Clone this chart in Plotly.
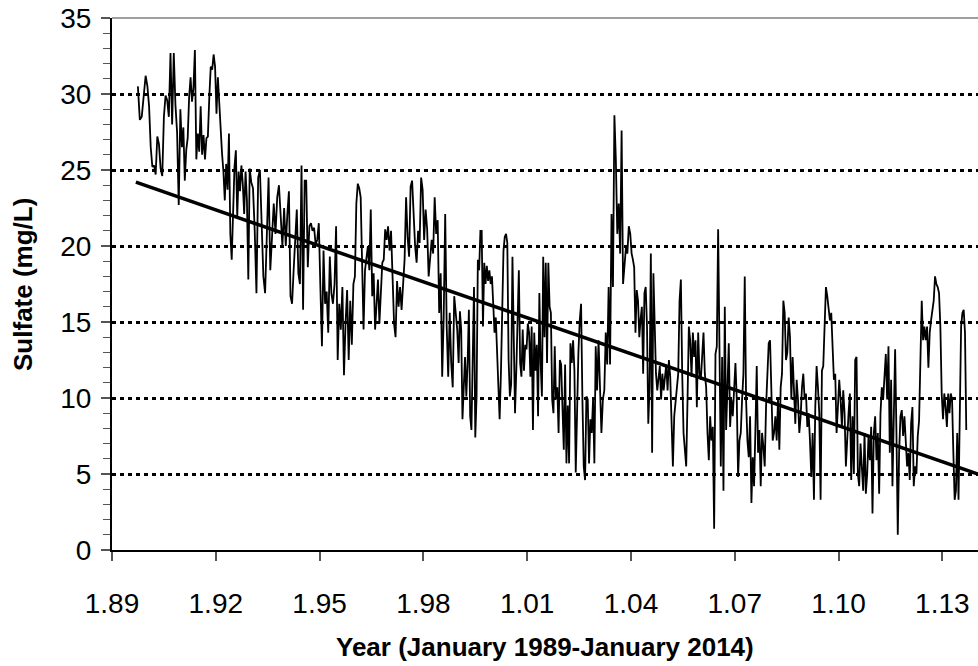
import plotly.graph_objects as go

# ---- data (sulfate, mg/L), one list per calendar year ----
v1989 = [30.5, 28.3, 28.5, 29.8, 31.2]
v1990 = [30.5, 29.2, 26.5, 25.2, 25.3, 24.7, 27.2, 26.7, 25.1, 24.6, 28.5, 29.9, 29.6, 28.5, 32.7, 28.0, 32.7, 29.3, 27.5, 22.7, 29.0]
v1991 = [26.5, 27.8, 24.3, 26.3, 27.1, 29.8, 31.1, 29.5, 30.4, 32.9, 25.7, 27.4, 26.2, 29.2, 26.0, 27.3, 25.7, 27.1, 27.2, 29.8, 31.8, 31.6, 32.6, 31.8]
v1992 = [28.7, 31.1, 29.3, 28.3, 26.1, 24.9, 23.0, 25.4, 23.7, 27.4, 20.8, 19.1, 23.0, 25.2, 26.3, 21.9, 24.9, 23.6, 25.3, 24.1, 22.1, 24.9, 23.0, 17.8, 25.1]
v1993 = [24.2, 23.8, 21.0, 16.9, 24.5, 25.0, 21.0, 18.0, 16.9, 20.4, 24.5, 18.4, 20.9, 22.8, 20.8, 23.2, 24.0, 22.1, 20.0, 22.5]
v1994 = [20.0, 22.1, 23.6, 16.7, 16.2, 18.4, 20.4, 22.4, 18.2, 17.5, 25.3, 15.8, 24.3, 24.3, 18.6, 21.3, 21.5, 21.0, 21.2, 20.1, 20.4, 21.5]
v1995 = [17.3, 13.4, 19.7, 16.2, 17.0, 14.3, 19.3, 16.9, 16.2, 17.5, 21.3, 12.5, 16.2, 14.5, 17.3, 11.5, 14.9, 17.1, 12.5, 16.4, 13.5, 17.5]
v1996 = [18.0, 22.8, 24.1, 23.8, 23.2, 18.0, 14.5, 18.4, 19.1, 20.0, 18.4, 22.4, 16.7, 18.2, 14.5, 16.2, 17.8, 14.9, 17.5, 18.9, 19.1, 21.1, 20.4, 21.3]
v1997 = [19.7, 21.0, 18.0, 14.9, 14.0, 17.7, 16.0, 17.3, 15.8, 18.0, 19.1, 23.2, 20.6, 19.3, 23.9, 24.3, 21.9, 20.0, 18.9, 21.0, 20.2, 24.5, 23.7]
v1998 = [20.4, 22.4, 21.1, 18.0, 19.5, 20.4, 19.5, 23.2, 20.8, 21.7, 15.6, 18.2, 11.4, 15.3, 22.1, 14.7, 11.4, 15.6, 12.3, 10.7, 16.7, 15.3, 14.5]
v1999 = [12.3, 15.7, 14.5, 8.6, 10.7, 12.7, 10.1, 12.3, 15.8, 8.8, 7.9, 14.5, 17.3, 7.4, 10.1, 19.1, 18.4, 21.0, 21.0, 14.7, 18.9, 17.5, 18.7, 17.7, 18.4, 17.5, 18.0]
v2000 = [16.2, 14.3, 15.3, 13.2, 10.1, 8.6, 11.6, 16.7, 19.7, 20.6, 20.8, 20.2, 12.5, 10.1, 10.9, 19.3, 14.5, 9.0, 11.8, 15.0, 18.4, 12.3, 11.4, 14.5, 11.8, 13.5, 13.2]
v2001 = [14.9, 14.3, 11.4, 14.7, 7.9, 14.3, 11.8, 13.5, 8.8, 16.9, 12.3, 10.1, 19.3, 14.0, 18.9, 12.3, 18.9, 16.0, 15.6, 9.9, 9.0, 13.4, 9.9, 10.7, 7.7, 12.5, 12.2]
v2002 = [9.9, 6.6, 12.2, 5.7, 9.5, 5.7, 13.6, 12.3, 13.8, 11.8, 5.1, 10.3, 13.0, 15.1, 16.2, 9.9, 5.5, 4.6, 10.1, 9.9, 5.7, 8.6, 7.7, 9.9, 5.7, 13.4]
v2003 = [10.5, 13.8, 9.9, 7.7, 9.9, 10.5, 14.3, 12.2, 17.3, 12.2, 22.1, 17.3, 28.6, 25.7, 20.8, 22.8, 19.5, 27.6, 17.5, 19.1, 19.9, 19.5, 21.3, 20.8]
v2004 = [19.5, 19.1, 18.6, 14.3, 17.1, 16.4, 14.0, 15.2, 16.0, 11.6, 16.9, 17.3, 14.7, 8.3, 10.7, 19.5, 6.4, 18.2, 14.3, 11.6, 10.5, 11.4, 12.1, 9.9, 11.6, 10.5, 11.4]
v2005 = [12.2, 10.5, 12.5, 11.4, 9.0, 5.5, 8.8, 9.9, 10.5, 11.6, 16.4, 17.8, 11.6, 7.7, 6.6, 5.5, 9.9, 14.7, 13.8, 11.4, 14.3, 12.7, 13.8, 9.4, 14.3, 11.6]
v2006 = [11.2, 12.9, 14.3, 11.6, 10.7, 7.7, 5.9, 8.8, 7.2, 8.1, 1.4, 12.9, 13.4, 21.1, 11.6, 5.5, 12.7, 3.9, 16.0, 7.9, 10.7, 13.6, 8.1, 9.9, 8.8, 10.3]
v2007 = [12.3, 9.9, 4.8, 7.2, 7.7, 9.9, 11.6, 18.0, 9.9, 7.2, 6.1, 8.8, 3.1, 6.1, 4.2, 7.9, 12.1, 6.4, 7.9, 4.2, 7.7, 6.8, 5.5, 9.4, 11.2, 13.6]
v2008 = [13.8, 10.7, 7.2, 7.7, 8.8, 7.2, 9.9, 6.6, 10.7, 11.6, 16.4, 15.6, 12.5, 13.0, 15.3, 14.0, 9.9, 12.7, 10.7, 8.3, 11.2, 9.9, 7.7, 8.8, 10.7, 11.6]
v2009 = [9.9, 10.3, 8.1, 9.0, 7.2, 4.8, 7.7, 3.3, 9.4, 12.1, 10.7, 9.0, 3.3, 11.8, 12.1, 14.3, 17.3, 16.7, 16.0, 15.1, 15.6, 13.0, 11.2, 11.6, 7.7, 9.4]
v2010 = [11.2, 9.9, 8.1, 10.5, 9.0, 5.5, 7.7, 9.0, 10.3, 4.6, 8.8, 5.0, 12.5, 12.7, 5.0, 4.2, 7.0, 5.5, 3.9, 7.7, 3.7, 5.0, 7.5, 5.9, 8.1, 2.4]
v2011 = [7.7, 8.8, 5.9, 7.7, 3.7, 9.0, 10.7, 9.9, 11.6, 12.9, 9.9, 13.4, 6.4, 11.2, 4.2, 9.9, 13.2, 7.7, 1.0, 6.4, 8.8, 9.2, 7.5, 8.8, 6.8, 5.5]
v2012 = [6.4, 4.6, 8.3, 9.4, 4.2, 5.5, 5.0, 7.5, 8.5, 12.1, 16.4, 13.8, 14.7, 13.8, 14.7, 12.0, 14.3, 15.1, 16.0, 16.4, 18.0, 17.5, 17.3, 16.9, 14.7, 10.3]
v2013 = [8.6, 10.3, 9.4, 8.1, 10.3, 9.0, 10.3, 9.9, 6.4, 3.3, 3.9, 7.7, 3.3, 10.7, 14.7, 15.6, 15.8, 14.3, 7.9]

first_sample = 1989.72   # decimal year of first sample
last_sample = 2013.71    # decimal year of last sample

# linear trend end points
trend_years = [1989.69, 2014.03]
trend_values = [24.2, 5.0]

# axis ticks
tick_years = [1989, 1992, 1995, 1998, 2001, 2004, 2007, 2010, 2013]
tick_labels = ["1.89", "1.92", "1.95", "1.98", "1.01", "1.04", "1.07", "1.10", "1.13"]

yearly = [v1989, v1990, v1991, v1992, v1993, v1994, v1995, v1996, v1997, v1998,
          v1999, v2000, v2001, v2002, v2003, v2004, v2005, v2006, v2007, v2008,
          v2009, v2010, v2011, v2012, v2013]

xs, ys = [], []
for k, vals in enumerate(yearly):
    yr = 1989 + k
    lo = max(yr, first_sample)
    hi = min(yr + 1, last_sample)
    n = len(vals)
    for i, v in enumerate(vals):
        xs.append(lo + (hi - lo) * (i + 0.5) / n)
        ys.append(v)

FONT = "Liberation Sans, Arial, sans-serif"

fig = go.Figure()
fig.add_trace(go.Scatter(x=xs, y=ys, mode="lines",
                         line=dict(color="black", width=1.8), showlegend=False))
fig.add_trace(go.Scatter(x=trend_years, y=trend_values, mode="lines",
                         line=dict(color="black", width=3.5), showlegend=False))

fig.update_layout(
    width=978, height=666,
    margin=dict(l=112, r=0, t=18, b=116),
    paper_bgcolor="white", plot_bgcolor="white",
    font=dict(family=FONT, color="black"),
    xaxis=dict(range=[1989, 2014.03], tickvals=tick_years, ticktext=tick_labels,
               showgrid=False, zeroline=False, showline=True, linecolor="black",
               linewidth=2, ticks="outside", ticklen=9, tickwidth=1.5,
               tickcolor="#555555", tickfont=dict(size=28, family=FONT),
               ticklabelstandoff=18),
    yaxis=dict(range=[0, 35], dtick=5, tick0=0, showgrid=True, gridcolor="black",
               gridwidth=2.5, griddash="4px,4px", zeroline=False, showline=True,
               linecolor="black", linewidth=2, ticks="outside", ticklen=9,
               tickwidth=1.5, tickcolor="#555555",
               tickfont=dict(size=28, family=FONT), ticklabelstandoff=4,
               minor=dict(dtick=1, ticks="outside", ticklen=7, tickwidth=1,
                          tickcolor="#555555", showgrid=False)),
    shapes=[dict(type="line", xref="paper", yref="paper", x0=0, x1=1, y0=1, y1=1,
                 line=dict(color="#808080", width=1.5))],
    annotations=[
        dict(text="<b>Year (January 1989-January 2014)</b>", xref="paper", yref="paper",
             x=0.5, y=-0.1823, xanchor="center", yanchor="middle", showarrow=False,
             font=dict(size=26, family=FONT)),
        dict(text="<b>Sulfate (mg/L)</b>", xref="paper", yref="paper",
             x=-0.1028, y=0.5, xanchor="center", yanchor="middle", showarrow=False,
             textangle=-90, font=dict(size=26, family=FONT)),
    ],
)

fig.write_html("out.html")
